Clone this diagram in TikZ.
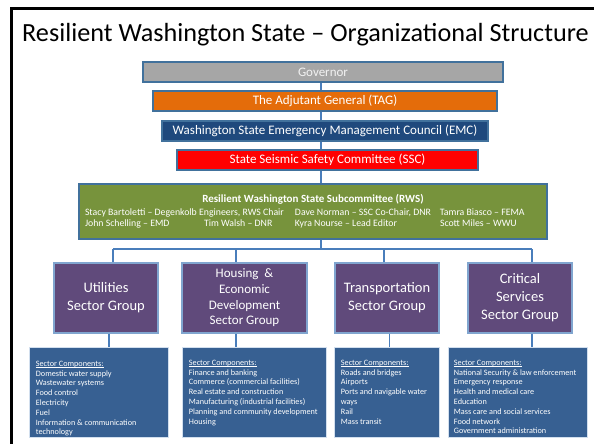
\documentclass[tikz,border=0pt]{standalone}
\usepackage{fontspec}
\setmainfont{Carlito}
\usetikzlibrary{positioning,calc}
\definecolor{edgeblue}{HTML}{41719C}
\definecolor{linkblue}{HTML}{4A7EBB}
\definecolor{govgray}{HTML}{A6A6A6}
\definecolor{tagorange}{HTML}{E46C0A}
\definecolor{emcblue}{HTML}{1F497D}
\definecolor{sscred}{HTML}{FF0000}
\definecolor{rwsgreen}{HTML}{77933C}
\definecolor{sectorpurple}{HTML}{604A7B}
\definecolor{compblue}{HTML}{376092}
\newcommand{\headline}[1]{\leavevmode\setbox0\hbox{#1}\rlap{\rule[-1.6pt]{\wd0}{0.5pt}}\box0}

\begin{document}
\begin{tikzpicture}[x=1pt,y=-1pt,
  box/.style={draw=edgeblue,line width=1.2pt,inner sep=0pt,text=white,minimum height=20pt,font=\fontsize{13}{15}\selectfont},
  sector/.style={draw=linkblue!70!white,line width=1.2pt,fill=sectorpurple,text=white,align=center,inner sep=0pt,minimum width=104pt,minimum height=70pt,font=\fontsize{14.5}{18}\selectfont},
  comp/.style={draw=white!75!linkblue,line width=0.6pt,fill=compblue,inner sep=0pt,minimum height=90pt},
  list/.style={anchor=north west,inner sep=0pt,align=left,text=white,font=\fontsize{8.2}{9.8}\selectfont},
  link/.style={draw=linkblue,line width=1.6pt}]
  \useasboundingbox (0,0) rectangle (594,444);
  \draw[line width=2.7pt] (11.3,444) -- (11.3,8.5) -- (594,8.5);
  \node[anchor=base west,inner sep=0pt,font=\fontsize{26.2}{31}\selectfont] (title) at (22,42) {Resilient Washington State – Organizational Structure};

  % chain of command
  \coordinate (spine) at (321,0);
  \node[box,fill=govgray,text=white!95!black,minimum width=360pt] (gov) at (323,72) {Governor};
  \node[box,fill=tagorange,minimum width=344pt] (tag) at (325,101) {The Adjutant General (TAG)};
  \node[box,fill=emcblue,minimum width=326pt] (emc) at (325,131) {Washington State Emergency Management Council (EMC)};
  \node[box,fill=sscred,minimum width=301pt] (ssc) at (327.5,160) {State Seismic Safety Committee (SSC)};
  \node[box,fill=rwsgreen,minimum width=468pt,minimum height=55pt,align=center,font=\fontsize{9.8}{11.5}\selectfont] (rws) at (313,211.5)
    {{\fontsize{11}{12}\selectfont\bfseries Resilient Washington State Subcommittee (RWS)}\\[1.5pt]
     \makebox[456pt][l]{\makebox[210pt][l]{Stacy Bartoletti – Degenkolb Engineers, RWS Chair}\makebox[145pt][l]{Dave Norman – SSC Co-Chair, DNR}Tamra Biasco – FEMA}\\
     \makebox[456pt][l]{\makebox[119pt][l]{John Schelling – EMD}\makebox[91pt][l]{Tim Walsh – DNR}\makebox[145pt][l]{Kyra Nourse – Lead Editor}Scott Miles – WWU}};

  \draw[link] (gov.south -| spine) -- (tag.north -| spine);
  \draw[link] (tag.south -| spine) -- (emc.north -| spine);
  \draw[link] (emc.south -| spine) -- (ssc.north -| spine);
  \draw[link] (ssc.south -| spine) -- (rws.north -| spine);

  % sector groups
  \node[sector] (util) at (106,298) {Utilities\\Sector Group};
  \node[sector,minimum width=125pt,font=\fontsize{13}{15.7}\selectfont] (hous) at (244.5,298) {Housing~ \&\\Economic\\Development\\Sector Group};
  \node[sector] (trans) at (387,298) {Transportation\\Sector Group};
  \node[sector] (crit) at (520,298) {Critical\\Services\\Sector Group};

  \coordinate (busL) at (113,249);
  \coordinate (busR) at (532,249);
  \draw[link] (rws.south -| spine) -- (spine |- busL);
  \draw[link] (busL) -- (busR);
  \draw[link] (busL) -- (util.north -| busL);
  \draw[link] ([xshift=-8.5pt]hous.north |- busL) -- ([xshift=-8.5pt]hous.north);
  \draw[link] ([xshift=-3pt]trans.north |- busL) -- ([xshift=-3pt]trans.north);
  \draw[link] (busR) -- (crit.north -| busR);

  % sector components
  \node[comp,minimum width=139pt] (utilComp) at (98.5,392) {};
  \node[comp,minimum width=144pt] (housComp) at (254,392) {};
  \node[comp,minimum width=105pt] (transComp) at (386.5,392) {};
  \node[comp,minimum width=139pt] (critComp) at (517.5,392) {};

  \draw[link] ([xshift=3pt]util.south) -- ([xshift=3pt]util.south |- utilComp.north);
  \draw[link] ([xshift=-8.5pt]hous.south) -- ([xshift=-8.5pt]hous.south |- housComp.north);
  \draw[link] ([xshift=2.5pt]trans.south) -- ([xshift=2.5pt]trans.south |- transComp.north);
  \draw[link] ([xshift=12pt]crit.south) -- ([xshift=12pt]crit.south |- critComp.north);

  \node[list] (utilList) at ([shift={(7,14)}]utilComp.north west)
    {\headline{Sector Components:}\\Domestic water supply\\Wastewater systems\\Food control\\Electricity\\Fuel\\Information \& communication\\technology};
  \node[list] (housList) at ([shift={(7,13)}]housComp.north west)
    {\headline{Sector Components:}\\Finance and banking\\Commerce (commercial facilities)\\Real estate and construction\\Manufacturing (industrial facilities)\\Planning and community development\\Housing};
  \node[list] (transList) at ([shift={(7,13)}]transComp.north west)
    {\headline{Sector Components:}\\Roads and bridges\\Airports\\Ports and navigable water\\ways\\Rail\\Mass transit};
  \node[list] (critList) at ([shift={(6,13)}]critComp.north west)
    {\headline{Sector Components:}\\National Security \& law enforcement\\Emergency response\\Health and medical care\\Education\\Mass care and social services\\Food network\\Government administration};
\end{tikzpicture}
\end{document}
